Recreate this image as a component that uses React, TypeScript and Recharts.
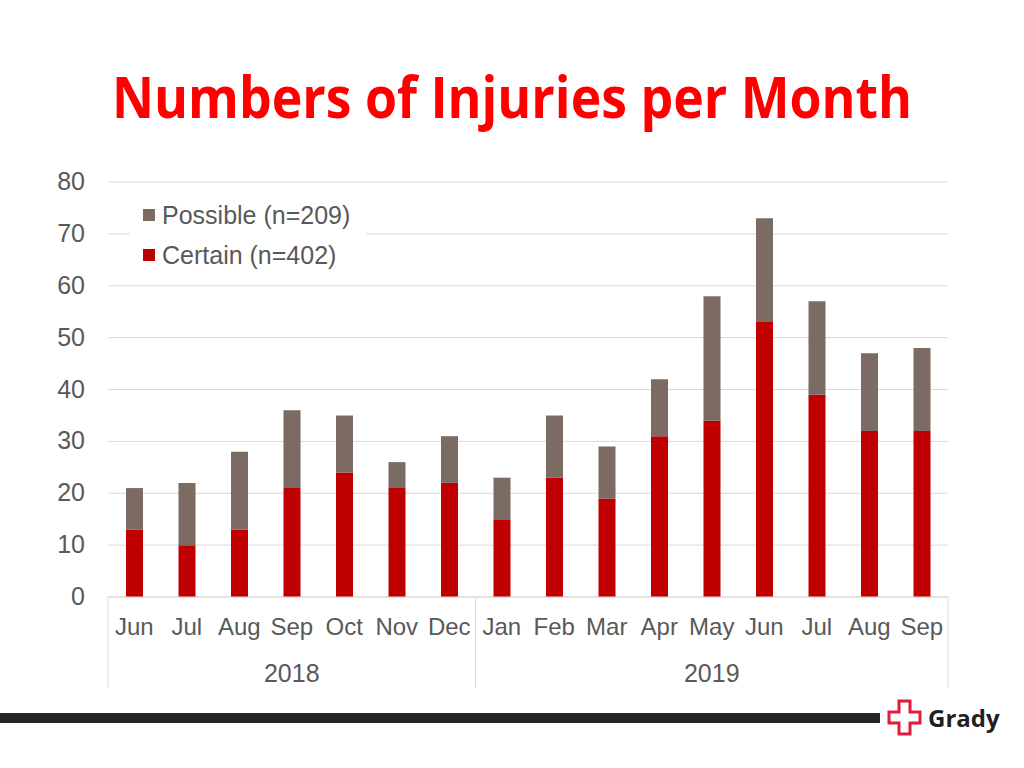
import React from 'react';
import { BarChart, Bar, XAxis, YAxis, CartesianGrid } from 'recharts';

const months = ['Jun', 'Jul', 'Aug', 'Sep', 'Oct', 'Nov', 'Dec', 'Jan', 'Feb', 'Mar', 'Apr', 'May', 'Jun', 'Jul', 'Aug', 'Sep'];
const certain = [13, 10, 13, 21, 24, 21, 22, 15, 23, 19, 31, 34, 53, 39, 32, 32];
const possible = [8, 12, 15, 15, 11, 5, 9, 8, 12, 10, 11, 24, 20, 18, 15, 16];
const yearLabels = ['2018', '2019'];
const yearStarts = [0, 7];
const yearCounts = [7, 9];
const yTicks = [0, 10, 20, 30, 40, 50, 60, 70, 80];
const seriesNames = ['Certain (n=402)', 'Possible (n=209)'];
const seriesColors = ['#c00000', '#7b6b63'];

const data = months.map((m, i) => ({ key: `${m}-${i}`, month: m, certain: certain[i], possible: possible[i] }));

const W = 1024;
const H = 768;
const M = { top: 182, right: 76, bottom: 80, left: 0 };
const Y_AXIS_W = 108;
const PLOT_W = W - M.left - M.right - Y_AXIS_W;
const BAND = PLOT_W / months.length;
const TEXT = '#595959';
const GRID = '#d9d9d9';
const FONT = '"Liberation Sans", Arial, sans-serif';

const MonthTick = (props: any) => {
  const { x, y, payload, index } = props;
  const els: any[] = [];
  els.push(
    <text key="m" x={x} y={y + 38} textAnchor="middle" fill={TEXT} fontSize={24} fontFamily={FONT}>
      {months[index] ?? payload.value}
    </text>
  );
  yearStarts.forEach((s, gi) => {
    const end = s + yearCounts[gi] - 1;
    const mid = s + (yearCounts[gi] - 1) / 2;
    if (index === s) {
      els.push(<line key={`ls${gi}`} x1={x - BAND / 2} x2={x - BAND / 2} y1={y} y2={y + 91} stroke={GRID} strokeWidth={1} />);
    }
    if (index === end && gi === yearStarts.length - 1) {
      els.push(<line key={`le${gi}`} x1={x + BAND / 2} x2={x + BAND / 2} y1={y} y2={y + 91} stroke={GRID} strokeWidth={1} />);
    }
    if (Math.floor(mid) === index) {
      const off = (mid - index) * BAND;
      els.push(
        <text key={`y${gi}`} x={x + off} y={y + 85} textAnchor="middle" fill={TEXT} fontSize={25} fontFamily={FONT}>
          {yearLabels[gi]}
        </text>
      );
    }
  });
  return <g>{els}</g>;
};

const YTick = (props: any) => {
  const { y, payload } = props;
  return (
    <text x={85} y={y + 8} textAnchor="end" fill={TEXT} fontSize={25} fontFamily={FONT}>
      {payload.value}
    </text>
  );
};

export default function App() {
  const legendOrder = [1, 0];
  return (
    <div style={{ position: 'absolute', left: 0, top: 0, width: W, height: H, background: '#fff', overflow: 'hidden' }}>
      <svg width={W} height={150} style={{ position: 'absolute', left: 0, top: 0 }}>
        <text x={112} y={118} fontSize={58} fontWeight={700} fill="#ff0000" fontFamily='"Open Sans", "Noto Sans", sans-serif' textLength={800} lengthAdjust="spacingAndGlyphs">
          Numbers of Injuries per Month
        </text>
      </svg>
      <div style={{ position: 'absolute', left: 0, top: 0 }}>
        <BarChart width={W} height={H} data={data} margin={M} barSize={17}>
          <CartesianGrid vertical={false} stroke={GRID} strokeWidth={1} />
          <XAxis dataKey="key" interval={0} tickLine={false} tickSize={0} tickMargin={0} axisLine={{ stroke: GRID }} height={91} tick={<MonthTick />} />
          <YAxis domain={[0, 80]} ticks={yTicks} width={Y_AXIS_W} axisLine={false} tickLine={false} tick={<YTick />} />
          <Bar dataKey="certain" name={seriesNames[0]} stackId="a" fill={seriesColors[0]} isAnimationActive={false} />
          <Bar dataKey="possible" name={seriesNames[1]} stackId="a" fill={seriesColors[1]} isAnimationActive={false} />
        </BarChart>
      </div>
      <div style={{ position: 'absolute', left: 130, top: 195, width: 236, background: '#fff', padding: '0 0 4px 13px', fontFamily: FONT, boxSizing: 'border-box' }}>
        {legendOrder.map((i) => (
          <div key={i} style={{ display: 'flex', alignItems: 'center', height: 40, fontSize: 25, color: TEXT, whiteSpace: 'nowrap' }}>
            <span style={{ display: 'inline-block', width: 12, height: 12, background: seriesColors[i], marginRight: 7, flexShrink: 0 }} />
            {seriesNames[i]}
          </div>
        ))}
      </div>
      <div style={{ position: 'absolute', left: 0, top: 713, width: 880, height: 10, background: '#262626' }} />
      <svg width={140} height={50} style={{ position: 'absolute', left: 884, top: 696 }}>
        <path d="M 15 5 H 26 V 16 H 36 V 27 H 26 V 38 H 15 V 27 H 5 V 16 H 15 Z" fill="none" stroke="#e31b3b" strokeWidth={3} />
        <text x={44} y={31} fontSize={24} fontWeight={700} fill="#231f20" fontFamily='"Open Sans", "Noto Sans", sans-serif'>Grady</text>
      </svg>
    </div>
  );
}
